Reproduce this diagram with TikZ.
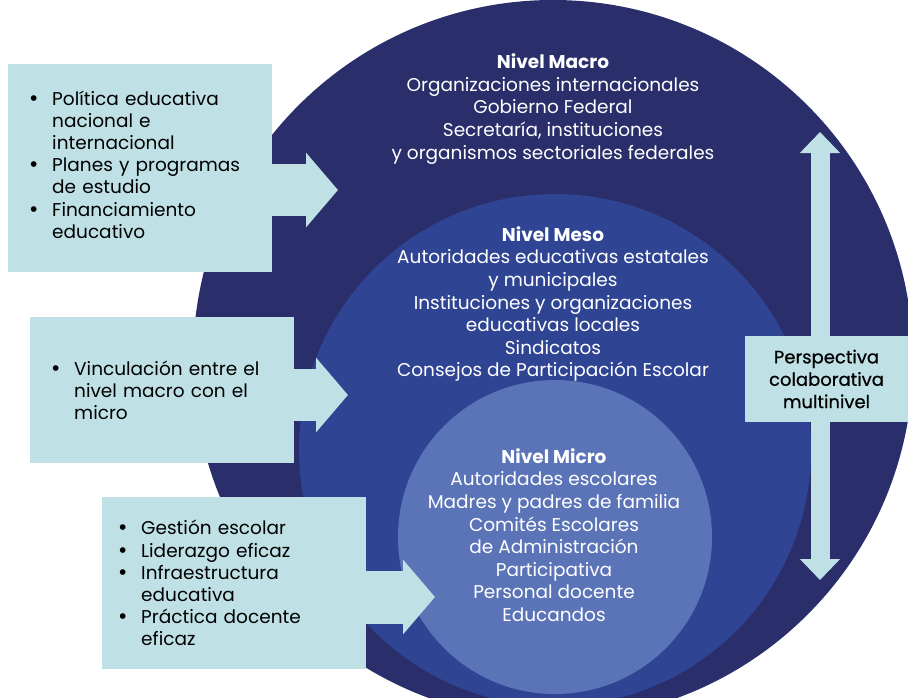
\documentclass[tikz,border=0pt]{standalone}
\usepackage{fontspec}
\setmainfont{Poppins}
\newfontfamily\mediumfont[FakeBold=0.7]{Poppins}
\newfontfamily\bulletfont{Liberation Sans}
\usetikzlibrary{arrows.meta}

\definecolor{macroblue}{HTML}{2A2E6B}
\definecolor{mesoblue}{HTML}{2F4594}
\definecolor{microblue}{HTML}{5B74B8}
\definecolor{paleblue}{HTML}{BFE1E5}

\newcommand{\bul}{\makebox[22pt][l]{\bulletfont\fontsize{21}{21}\selectfont\textbullet}}
\newcommand{\cont}{\hspace*{22pt}}

\begin{document}
\begin{tikzpicture}[
    x=1pt, y=-1pt,
    infobox/.style={fill=paleblue, anchor=north west, align=left, inner xsep=22pt,
        text width=220pt, font=\fontsize{18.5}{22.2}\selectfont},
    level/.style={align=center, text=white, font=\fontsize{18.5}{22.6}\selectfont},
    blockarrow/.style={draw=paleblue, line width=52pt, -{Triangle[width=73pt,length=32pt]}}
]
\useasboundingbox (0,0) rectangle (908,697);
\clip (0,0) rectangle (908,697);

% three nested levels
\fill[macroblue] (553,360) circle [radius=360pt];
\fill[mesoblue] (555,450) circle [radius=256pt];
\fill[microblue] (555,537) circle [radius=157pt];

\node[level] (macro) at (553,109) {\textbf{Nivel Macro}\\
    Organizaciones internacionales\\ Gobierno Federal\\
    Secretaría, instituciones\\ y organismos sectoriales federales};
\node[level] (meso) at (553,304) {\textbf{Nivel Meso}\\
    Autoridades educativas estatales\\ y municipales\\
    Instituciones y organizaciones\\ educativas locales\\
    Sindicatos\\ Consejos de Participación Escolar};
\node[level] (micro) at (554,535) {\textbf{Nivel Micro}\\
    Autoridades escolares\\ Madres y padres de familia\\
    Comités Escolares\\ de Administración\\ Participativa\\
    Personal docente\\ Educandos};

% arrow tips on the circles
\coordinate (tip1) at (338,190);
\coordinate (tip2) at (348,395);
\coordinate (tip3) at (435,597);

% boxes on the left
\node[infobox, minimum width=264pt, minimum height=208pt, text height=7pt] (politicas) at (8,64) {%
    \bul Política educativa\\
    \cont nacional e\\
    \cont internacional\\
    \bul Planes y programas\\
    \cont de estudio\\
    \bul Financiamiento\\
    \cont educativo};
\node[infobox, minimum width=264pt, minimum height=146pt] (vinculacion) at (30,317) {%
    \bul Vinculación entre el\\
    \cont nivel macro con el\\
    \cont micro};
\node[infobox, inner xsep=17pt, text width=230pt, minimum width=264pt, minimum height=172pt]
    (escuela) at (102,497) {%
    \bul Gestión escolar\\
    \bul Liderazgo eficaz\\
    \bul Infraestructura\\
    \cont educativa\\
    \bul Práctica docente\\
    \cont eficaz};

\draw[blockarrow] (politicas.east |- tip1) -- (tip1);
\draw[blockarrow] (vinculacion.east |- tip2) -- (tip2);
\draw[blockarrow, line width=53pt] (escuela.east |- tip3) -- (tip3);

% vertical double arrow
\coordinate (top) at (820,132);
\coordinate (bottom) at (820,580);
\draw[paleblue, line width=19pt,
    {Triangle[width=39pt,length=21pt]}-{Triangle[width=39pt,length=21pt]}] (top) -- (bottom);
\node[fill=paleblue, minimum width=163pt, minimum height=86pt, align=center,
    font=\fontsize{18}{22.4}\mediumfont] (perspectiva) at (826.5,379)
    {Perspectiva\\ colaborativa\\ multinivel};

\end{tikzpicture}
\end{document}
